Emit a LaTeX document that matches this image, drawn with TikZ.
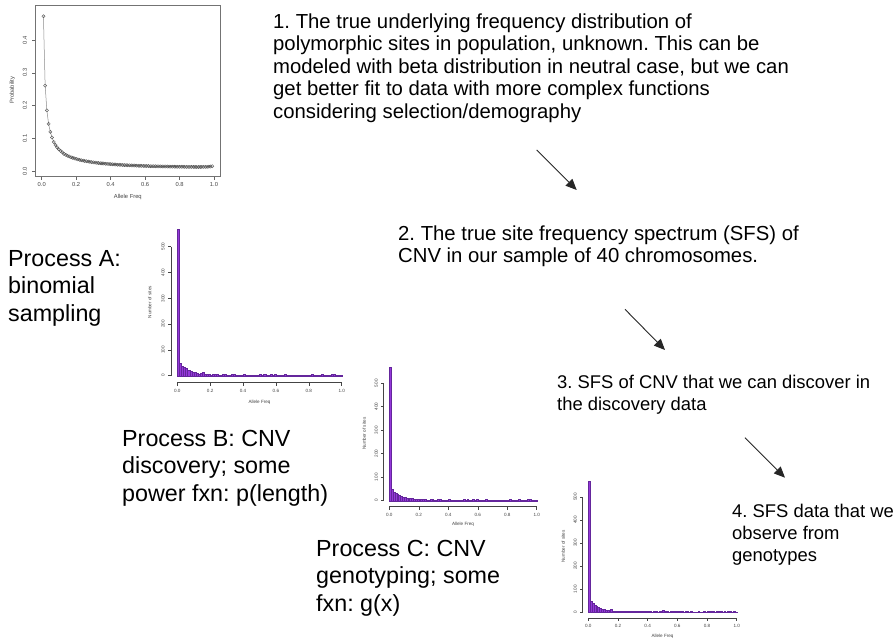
\documentclass[tikz,border=0pt]{standalone}
\usepackage{fontspec}
\setmainfont{Liberation Sans}
\usetikzlibrary{arrows.meta}
\frenchspacing

\definecolor{histfill}{HTML}{9538DA}
\definecolor{histedge}{HTML}{64269C}
\definecolor{axisgray}{HTML}{444444}

% a left-aligned block of lines whose baseline is the first line
\newcommand{\txtlines}[1]{\begin{tabular}[t]{@{}l@{}}#1\end{tabular}}

% histogram of site counts in local units (x: allele frequency, y: count)
% #1 scales the offsets of axes and labels
\newcommand{\sfshist}[1]{%
  \foreach \h [count=\i from 0] in {570,48,38,32,28,22,18,15,15,9,8,10,12,7,6,5,4,7,5,6,
                                    4,3,5,7,4,3,5,6,4,3,4,3,5,4,2,4,3,2,4,3,
                                    8,3,7,2,3,5,4,7,3,4,3,2,5,3,1,3,2,1,2,3,
                                    2,1,3,2,4,6,3,4,2,3,5,3,2,4,2,5,7,2,3,1}{
    \filldraw[histbar] (\i*0.0125,0) rectangle ++(0.0125,\h);
  }
  \draw[histaxis] ([yshift={-6*#1pt}]0,0) -- ([yshift={-6*#1pt}]1,0);
  \foreach \t/\l in {0/0.0,0.2/0.2,0.4/0.4,0.6/0.6,0.8/0.8,1/1.0}{
    \draw[histaxis] ([yshift={-6*#1pt}]\t,0) -- ([yshift={-9*#1pt}]\t,0);
    \node[histtick] at ([yshift={-14*#1pt}]\t,0) {\l};
  }
  \draw[histaxis] ([xshift={-5.6*#1pt}]0,0) -- ([xshift={-5.6*#1pt}]0,500);
  \foreach \t in {0,100,200,300,400,500}{
    \draw[histaxis] ([xshift={-5.6*#1pt}]0,\t) -- ([xshift={-8.6*#1pt}]0,\t);
    \node[histtick, rotate=90] at ([xshift={-13*#1pt}]0,\t) {\t};
  }
  \node[histtitle] at ([yshift={-24*#1pt}]0.5,0) {Allele Freq};
  \node[histtitle, rotate=90] at ([xshift={-25*#1pt}]0,285) {Number of sites};
}

\begin{document}
\begin{tikzpicture}[x=1pt, y=-1pt,
  blurb/.style={inner sep=0pt, anchor=base west, text=black},
  midtext/.style={blurb, font=\fontsize{20.3}{22.5}\selectfont},
  proctext/.style={blurb, font=\fontsize{23.3}{27.5}\selectfont},
  smalltext/.style={blurb, font=\fontsize{18.4}{22}\selectfont},
  flow/.style={draw=black!85, line width=0.9pt,
    -{Triangle[length=11pt, width=9.5pt]}},
  histbar/.style={fill=histfill, draw=histedge, line width=0.25pt},
  histaxis/.style={draw=axisgray, line width=0.45pt},
  histtick/.style={inner sep=0pt, text=axisgray, font=\fontsize{4.6}{5}\selectfont},
  histtitle/.style={inner sep=0pt, text=axisgray, font=\fontsize{4.6}{5}\selectfont},
  rframe/.style={draw=black!55, line width=0.5pt},
  raxis/.style={draw=black!60, line width=0.45pt},
  rtick/.style={inner sep=0pt, text=axisgray, font=\fontsize{5.8}{6}\selectfont},
  rcurve/.style={draw=black!45, line width=0.5pt},
  rpts/.style={draw=black!70, line width=0.4pt}]

\fill[white] (0,0) rectangle (895,640);
\useasboundingbox (0,0) rectangle (895,640);

% ---- density of allele frequencies in the population (y grows upwards here)
\begin{scope}[shift={(41.7,171)}, x=172.3pt, y=327.5pt]
  \draw[rframe] (-0.039,-0.0174) rectangle (1.039,0.507);
  \foreach \t/\l in {0/0.0,0.2/0.2,0.4/0.4,0.6/0.6,0.8/0.8,1/1.0}{
    \draw[raxis] (\t,-0.0174) -- ([yshift=-3pt]\t,-0.0174);
    \node[rtick] at ([yshift=-8pt]\t,-0.0174) {\l};
  }
  \foreach \t/\l in {0/0.0,0.1/0.1,0.2/0.2,0.3/0.3,0.4/0.4}{
    \draw[raxis] (-0.039,\t) -- ([xshift=-3pt]-0.039,\t);
    \node[rtick, rotate=90] at ([xshift=-10pt]-0.039,\t) {\l};
  }
  \node[rtick] (pxlab) at ([yshift=-20pt]0.5,-0.0174) {Allele Freq};
  \node[rtick, rotate=90] (pylab) at ([xshift=-22.7pt]-0.039,0.247) {Probability};
  \draw[rcurve] plot[domain=0.01:0.99, samples=99]
    (\x, {0.00905*pow(\x,-0.86)*pow(1-\x,-0.1)});
  % open circles on the sampled frequencies
  \foreach \k in {1,...,99}{
    \pgfmathsetmacro{\fq}{\k/100}
    \pgfmathsetmacro{\pr}{0.00905*pow(\fq,-0.86)*pow(1-\fq,-0.1)}
    \draw[rpts] (\fq,\pr) circle[radius=1.6pt];
  }
\end{scope}

% ---- three site frequency spectra (y grows upwards here)
\begin{scope}[shift={(177.3,375.7)}, x=164.4pt, y=0.258pt]
  \sfshist{1.1}
\end{scope}
\begin{scope}[shift={(389.3,500.7)}, x=147.4pt, y=0.235pt]
  \sfshist{1}
\end{scope}
\begin{scope}[shift={(588.3,612.3)}, x=148.4pt, y=0.231pt]
  \sfshist{1}
\end{scope}

% ---- explanations
\node[midtext] (step1) at (273,28) {\txtlines{%
  1. The true underlying frequency distribution of\\
  polymorphic sites in population, unknown. This can be\\
  modeled with beta distribution in neutral case, but we can\\
  get better fit to data with more complex functions\\
  considering selection/demography}};
\node[midtext] (step2) at (398,240) {\txtlines{%
  2. The true site frequency spectrum (SFS) of\\
  CNV in our sample of 40 chromosomes.}};
\node[smalltext] (step3) at (557,388) {\txtlines{%
  3. SFS of CNV that we can discover in\\
  the discovery data}};
\node[smalltext] (step4) at (732,517) {\txtlines{%
  4. SFS data that we\\
  observe from\\
  genotypes}};

\node[proctext] (procA) at (8,266) {\txtlines{%
  Process A:\\
  binomial\\
  sampling}};
\node[proctext] (procB) at (122,446) {\txtlines{%
  Process B: CNV\\
  discovery; some\\
  power fxn: p(length)}};
\node[proctext] (procC) at (316,556) {\txtlines{%
  Process C: CNV\\
  genotyping; some\\
  fxn: g(x)}};

% ---- arrows leading from one stage to the next
\coordinate (a1s) at (536.7,150);
\coordinate (a1e) at (576.7,190);
\coordinate (a2s) at (625,309.3);
\coordinate (a2e) at (665,350);
\coordinate (a3s) at (745,437.7);
\coordinate (a3e) at (785,477.7);
\draw[flow] (a1s) -- (a1e);
\draw[flow] (a2s) -- (a2e);
\draw[flow] (a3s) -- (a3e);

\end{tikzpicture}
\end{document}
